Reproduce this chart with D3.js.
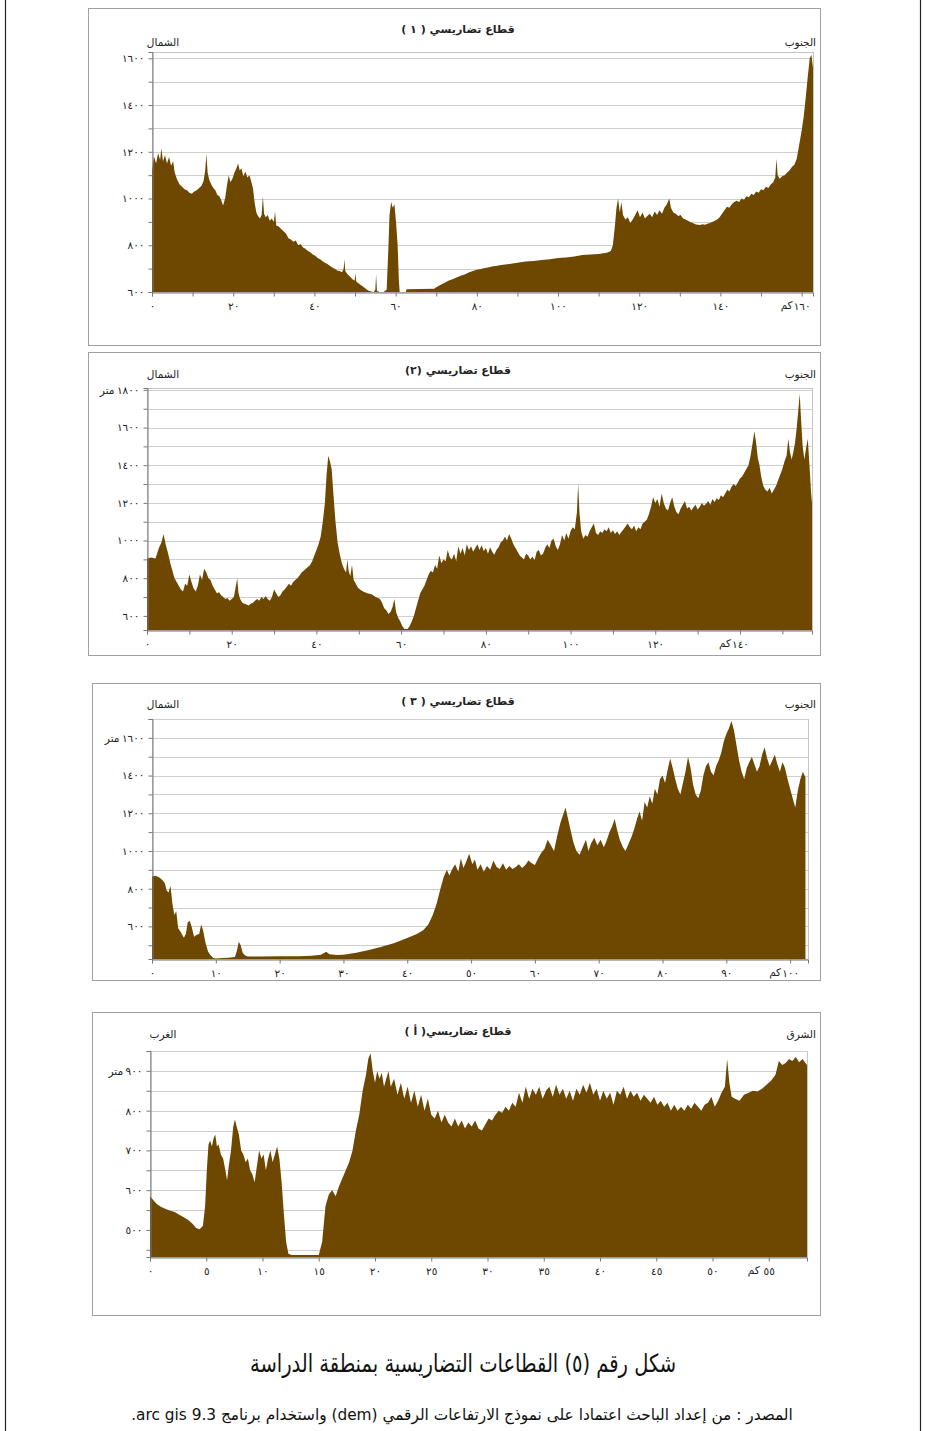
<!DOCTYPE html>
<html>
<head>
<meta charset="utf-8">
<script src="https://cdn.jsdelivr.net/npm/d3@7"></script>
<style>
  html, body { margin: 0; padding: 0; background: #fff; }
  svg { display: block; }
  text { font-family: "DejaVu Sans", "Liberation Sans", sans-serif; }
</style>
</head>
<body>
<svg id="fig" width="925" height="1431"></svg>
<script>
// ---- Profile 1 (north -> south): distance (km) and elevation (m)
const p1Dist = [0,0.5,1,1.5,2,2.3,2.7,3.2,3.7,4.2,4.7,5.2,5.6,6.2,6.8,7.4,8,8.6,9.2,9.8,10.4,11,11.6,12.2,12.7,13.1,13.4,13.7,14.1,14.6,15.1,15.6,16.1,16.6,17.1,17.5,18,18.5,18.9,19.3,19.8,20.3,20.8,21.2,21.6,22,22.5,23,23.5,24,24.5,24.9,25.3,25.7,26.1,26.6,27,27.3,27.6,28,28.5,29,29.5,30,30.3,30.6,31.2,31.8,32.4,33,33.6,34.2,34.8,35.4,36,36.6,37.2,37.8,38.4,39,39.6,40.2,40.8,41.4,42,42.6,43.2,43.8,44.4,45,45.6,46.2,46.8,47.2,47.4,47.6,48.2,48.8,49.4,49.9,50.1,50.3,51,51.6,52.2,52.8,53.4,54,54.6,55,55.2,55.4,56,57,57.8,58.2,58.5,58.9,59.3,59.7,60.1,60.5,60.8,61,62.5,62.7,69.5,70,71,72,73,74,75,76,77,78,79,80,81,82,83,84,85,86,87,88,90,92,94,96,98,100,102,104,106,108,110,112,113,113.5,114,114.4,114.8,115.2,115.6,116,116.6,117.2,117.8,118.4,119,119.6,120.2,120.8,121.4,122,122.6,123.2,123.8,124.4,125,125.6,126.2,126.8,127.4,127.8,128.4,129,129.6,130.2,130.8,131.4,132,132.6,133.2,133.8,134.4,135,135.6,136.2,136.8,137.4,138,138.6,139.2,139.8,140.4,141,141.6,142.2,142.8,143.4,144,144.6,145.2,145.8,146.4,147,147.6,148.2,148.8,149.4,150,150.6,151.2,151.8,152.4,153,153.5,153.8,154.1,154.6,155.2,155.8,156.4,157,157.6,158.2,158.8,159.4,160,160.5,161,161.5,162,162.4,162.8];
const p1Elev = [1120,1180,1150,1195,1165,1215,1160,1185,1150,1178,1140,1160,1110,1080,1060,1050,1040,1035,1025,1020,1030,1035,1045,1055,1075,1120,1190,1110,1080,1060,1045,1035,1015,1010,990,970,1000,1060,1100,1070,1085,1110,1130,1150,1120,1130,1095,1115,1090,1100,1070,1040,980,940,925,915,930,1010,935,920,930,905,915,900,945,885,880,870,860,850,830,825,815,820,800,805,790,785,775,770,760,755,745,740,732,725,720,712,705,700,692,690,685,700,740,690,675,665,655,648,680,645,635,628,620,612,605,602,600,610,675,605,600,600,610,780,930,985,960,975,900,800,650,600,600,612,614,620,630,638,648,655,662,670,675,683,690,695,698,703,706,710,712,716,718,720,725,730,733,737,740,745,748,752,758,760,763,768,775,800,880,960,1000,940,985,930,910,920,895,910,930,950,920,940,915,925,935,920,945,930,950,935,960,975,1000,960,940,935,925,930,915,910,905,900,895,890,888,887,890,888,892,895,900,905,910,920,935,950,965,960,975,985,990,985,1000,995,1010,1005,1020,1015,1030,1025,1040,1035,1050,1045,1060,1070,1090,1170,1100,1085,1095,1100,1110,1120,1135,1145,1170,1230,1290,1350,1430,1520,1600,1615,1560];

// ---- Profile 2 (north -> south)
const p2Dist = [0,1,2,2.8,3.4,3.9,4.4,5,5.5,6,6.5,7,7.5,8,8.5,9,9.5,10,10.5,11,11.5,12,12.5,13,13.5,14,14.5,15,15.5,16,16.5,17,17.5,18,18.5,19,19.5,20,20.5,21,21.3,21.6,22,22.5,23,23.5,24,24.5,25,25.5,26,26.5,27,27.5,28,28.5,29,29.5,30,30.5,31,31.5,32,32.5,33,33.5,34,34.5,35,35.5,36,36.5,37,37.5,38,38.5,39,39.5,40,40.5,41,41.5,42,42.4,42.8,43.2,43.6,44,44.5,45,45.5,46,46.5,47,47.3,47.6,48,48.4,48.8,49.3,49.8,50.3,51,52,53,54,55,55.5,56,56.5,57,57.5,58,58.4,58.8,59.3,59.8,60.3,60.8,61.5,62,62.5,63,63.5,64,64.5,65,65.5,66,66.5,67,67.5,68,68.5,69,69.5,70,70.5,71,71.5,72,72.5,73,73.5,74,74.5,75,75.5,76,76.5,77,77.5,78,78.5,79,79.5,80,80.5,81,81.5,82,82.5,83,83.5,84,84.5,85,85.5,86,86.5,87,87.5,88,88.5,89,89.5,90,90.5,91,91.5,92,92.5,93,93.5,94,94.5,95,95.5,96,96.5,97,97.5,98,98.5,99,99.5,100,100.5,101,101.5,101.8,102.1,102.5,103,103.5,104,104.5,105,105.5,106,106.5,107,107.5,108,108.5,109,109.5,110,110.5,111,111.5,112,112.5,113,113.5,114,114.5,115,115.5,116,116.5,117,117.5,118,118.5,119,119.5,120,120.5,121,121.5,122,122.5,123,123.5,124,124.5,125,125.5,126,126.5,127,127.5,128,128.5,129,129.5,130,130.5,131,131.5,132,132.5,133,133.5,134,134.5,135,135.5,136,136.5,137,137.5,138,138.5,139,139.5,140,140.5,141,141.5,142,142.5,143,143.4,143.8,144.2,144.6,145,145.5,146,146.5,147,147.5,148,148.5,149,149.5,150,150.5,151,151.4,151.8,152.2,152.6,153,153.4,153.8,154.1,154.4,154.8,155.2,155.6,156,156.4,156.8,157];
const p2Elev = [905,910,905,960,990,1035,980,930,880,840,800,780,760,740,730,770,760,820,780,745,730,760,820,790,850,830,800,790,760,740,720,725,710,700,690,695,680,690,700,760,800,720,690,670,665,660,655,665,670,680,690,680,700,690,705,690,680,700,740,720,700,710,730,740,755,770,760,780,790,800,815,830,840,850,860,870,890,920,950,980,1020,1100,1200,1350,1450,1420,1380,1250,1100,990,930,880,850,830,900,840,810,870,790,770,750,740,730,720,715,700,690,670,640,630,610,620,650,690,620,590,570,545,530,530,545,570,600,640,680,720,740,760,790,820,840,830,870,850,920,880,900,890,950,910,900,930,890,970,930,960,920,980,950,970,940,960,980,950,975,945,960,930,965,940,925,950,965,990,1000,1020,1000,1035,1010,980,960,940,920,910,900,930,920,900,915,895,940,950,920,930,960,980,960,1000,1010,970,950,980,1030,1000,1040,1010,1050,1070,1060,1150,1300,1150,1050,1010,1030,1020,1050,1070,1090,1040,1030,1050,1040,1060,1050,1070,1040,1055,1035,1050,1030,1045,1060,1075,1090,1070,1060,1080,1050,1070,1060,1090,1100,1110,1140,1180,1230,1200,1220,1180,1250,1200,1170,1160,1200,1230,1180,1150,1140,1170,1190,1210,1170,1180,1160,1175,1190,1165,1180,1200,1185,1195,1210,1190,1220,1205,1225,1215,1240,1230,1250,1270,1260,1285,1300,1290,1310,1330,1340,1360,1380,1400,1450,1520,1580,1520,1440,1400,1340,1290,1270,1260,1280,1250,1270,1290,1320,1350,1380,1420,1450,1540,1470,1430,1470,1520,1600,1700,1780,1650,1500,1430,1490,1540,1400,1250,1200];

// ---- Profile 3 (north -> south)
const p3Dist = [0,0.5,1,1.5,2,2.3,2.6,2.9,3.2,3.5,3.8,4.1,4.5,5,5.3,5.6,5.9,6.2,6.6,7,7.4,7.7,8,8.4,8.8,9.2,9.6,10,11,12,13,13.3,13.6,13.9,14.2,14.6,15,17,20,23,25,26.5,27.3,27.8,29,30,32,34,36,38,40,41.5,42.5,43.3,44,44.6,45.2,45.7,46.2,46.6,47,47.5,48,48.4,48.8,49.2,49.7,50.2,50.6,51,51.5,52,52.5,53,53.5,54,54.5,55,55.5,56,56.5,57,57.5,58,58.5,59,59.5,60,60.5,61,61.5,62,62.5,63,63.5,64,64.5,64.8,65.2,65.6,66,66.5,67,67.5,68,68.4,68.8,69.3,69.8,70.3,70.8,71.2,71.7,72.1,72.5,72.9,73.3,73.8,74.2,74.7,75.2,75.6,76,76.4,76.8,77.2,77.6,78,78.4,78.8,79.2,79.6,80,80.4,80.8,81.2,81.6,82,82.4,82.8,83.2,83.6,84,84.4,84.8,85.2,85.6,86,86.4,86.8,87.2,87.6,88,88.4,88.8,89.2,89.6,90,90.4,90.8,91.2,91.6,92,92.4,92.8,93.2,93.6,94,94.4,94.8,95.2,95.6,96,96.4,96.8,97.2,97.6,98,98.4,98.8,99.2,99.6,100,100.4,100.8,101.2,101.6,102,102.4];
const p3Elev = [865,868,862,850,830,790,780,815,720,660,680,590,570,540,560,620,630,600,545,555,560,610,580,510,465,445,432,430,432,434,438,470,518,500,460,445,440,440,442,442,444,450,465,452,448,450,460,475,492,512,538,560,580,610,660,720,800,860,900,870,900,930,890,960,910,940,985,930,955,900,930,890,920,900,950,915,905,935,900,920,905,915,930,910,925,950,935,925,960,990,1010,1060,1030,1000,1080,1150,1200,1230,1170,1110,1050,1000,980,1020,1060,1000,1040,1070,1030,1060,1020,1050,1100,1130,1170,1110,1060,1020,1000,1040,1080,1120,1170,1210,1160,1260,1230,1290,1250,1330,1300,1380,1400,1360,1430,1490,1440,1380,1330,1300,1360,1420,1500,1440,1350,1300,1280,1320,1400,1450,1470,1420,1400,1450,1480,1520,1580,1620,1650,1690,1640,1560,1480,1420,1380,1440,1470,1500,1460,1420,1450,1510,1550,1490,1450,1480,1510,1460,1420,1470,1440,1380,1330,1280,1230,1320,1380,1420,1390];

// ---- Profile A (west -> east)
const p4Dist = [0,0.3,0.6,1,1.4,1.8,2.2,2.6,3,3.4,3.8,4.1,4.4,4.7,4.9,5.05,5.2,5.35,5.5,5.65,5.8,5.95,6.1,6.3,6.5,6.7,6.85,7,7.2,7.4,7.55,7.7,7.9,8.1,8.3,8.5,8.7,8.9,9.1,9.3,9.5,9.7,9.9,10.1,10.3,10.5,10.7,10.9,11.1,11.3,11.5,11.7,11.9,12.1,12.3,12.6,15,15.3,15.6,15.9,16.2,16.5,16.8,17.1,17.4,17.7,18,18.3,18.6,18.9,19.2,19.4,19.6,19.8,20,20.2,20.4,20.6,20.8,21,21.2,21.4,21.7,22,22.3,22.6,22.9,23.2,23.5,23.8,24.1,24.4,24.7,25,25.3,25.6,25.9,26.2,26.5,26.8,27.1,27.4,27.7,28,28.3,28.6,28.9,29.2,29.5,29.8,30.1,30.4,30.7,31,31.3,31.6,31.9,32.2,32.5,32.8,33.1,33.4,33.7,34,34.3,34.6,34.9,35.2,35.5,35.8,36.1,36.4,36.7,37,37.3,37.6,37.9,38.2,38.5,38.8,39.1,39.4,39.7,40,40.3,40.6,40.9,41.2,41.5,41.8,42.1,42.4,42.7,43,43.3,43.6,43.9,44.2,44.5,44.8,45.1,45.4,45.7,46,46.3,46.6,46.9,47.2,47.5,47.8,48.1,48.4,48.7,49,49.3,49.6,49.9,50.2,50.5,50.8,51.1,51.3,51.5,51.7,52,52.4,52.8,53.2,53.6,54,54.4,54.8,55.2,55.6,55.9,56.2,56.5,56.8,57.1,57.4,57.7,58,58.4];
const p4Elev = [585,575,565,558,553,548,545,538,532,525,515,505,502,510,560,650,715,725,710,730,740,710,715,690,680,650,625,660,700,760,778,760,740,700,690,670,680,650,640,620,660,700,680,690,650,680,700,670,690,710,680,620,540,470,440,437,437,470,560,590,600,585,610,630,650,670,700,750,790,850,890,930,945,900,870,900,880,895,860,880,900,860,880,840,870,830,860,820,850,810,840,800,830,790,780,800,770,790,770,760,780,760,775,755,770,760,775,755,750,765,780,775,790,800,795,810,800,820,810,845,820,860,830,855,840,860,830,850,860,835,865,840,855,830,850,825,855,840,865,845,870,840,855,825,850,830,845,815,850,840,860,830,850,835,845,825,840,830,820,835,815,825,810,820,800,815,800,810,800,815,805,820,810,800,815,820,835,810,825,845,860,930,870,835,830,825,840,845,850,848,855,865,875,890,925,915,920,930,925,935,922,930,915];

// ---- Axis ticks and labels
const p1XTicks = [0,20,40,60,80,100,120,140,160];
const p2XTicks = [0,20,40,60,80,100,120,140];
const p3XTicks = [0,10,20,30,40,50,60,70,80,90,100];
const p4XTicks = [0,5,10,15,20,25,30,35,40,45,50,55];
const p1YTicks = [600,800,1000,1200,1400,1600];
const p2YTicks = [600,800,1000,1200,1400,1600,1800];
const p3YTicks = [600,800,1000,1200,1400,1600];
const p4YTicks = [500,600,700,800,900];

const panels = [
  { title: "قطاع تضاريسي ( ١ )", left: "الشمال", right: "الجنوب",
    box: [88, 8, 820, 345], plot: [152, 52, 813, 292],
    xDom: [0, 162.8], yDom: [600, 1627], xTicks: p1XTicks, xMinor: 10,
    yTicks: p1YTicks, yMinor: 100, unitOnTop: false,
    dist: p1Dist, elev: p1Elev, titleY: 33, sideY: 46 },
  { title: "قطاع تضاريسي (٢)", left: "الشمال", right: "الجنوب",
    box: [88, 352, 820, 655], plot: [147, 388, 812, 630],
    xDom: [0, 157], yDom: [525, 1810], xTicks: p2XTicks, xMinor: 10,
    yTicks: p2YTicks, yMinor: 100, unitOnTop: true,
    dist: p2Dist, elev: p2Elev, titleY: 374, sideY: 378 },
  { title: "قطاع تضاريسي ( ٣ )", left: "الشمال", right: "الجنوب",
    box: [92, 683, 820, 980], plot: [152, 719, 808, 959],
    xDom: [0, 102.8], yDom: [427, 1700], xTicks: p3XTicks, xMinor: 10,
    yTicks: p3YTicks, yMinor: 100, unitOnTop: true,
    dist: p3Dist, elev: p3Elev, titleY: 705, sideY: 708 },
  { title: "قطاع تضاريسي( أ )", left: "الغرب", right: "الشرق",
    box: [92, 1012, 820, 1315], plot: [150, 1051, 807, 1257],
    xDom: [0, 58.4], yDom: [432, 950], xTicks: p4XTicks, xMinor: 5,
    yTicks: p4YTicks, yMinor: 50, unitOnTop: true,
    dist: p4Dist, elev: p4Elev, titleY: 1035, sideY: 1038 }
];

const AR = "٠١٢٣٤٥٦٧٨٩";
const arabicDigits = n => String(n).replace(/\d/g, d => AR[+d]);

const svg = d3.select("#fig");
const FILL = "#6e4700";

// page frame lines
svg.append("line").attr("x1", 5.5).attr("x2", 5.5).attr("y1", 0).attr("y2", 1431)
  .attr("stroke", "#222").attr("stroke-width", 1.2);
svg.append("line").attr("x1", 920.5).attr("x2", 920.5).attr("y1", 0).attr("y2", 1431)
  .attr("stroke", "#222").attr("stroke-width", 1.2);

panels.forEach(p => {
  const g = svg.append("g");
  const [bx0, by0, bx1, by1] = p.box;
  g.append("rect").attr("x", bx0 + 0.5).attr("y", by0 + 0.5)
    .attr("width", bx1 - bx0).attr("height", by1 - by0)
    .attr("fill", "#fff").attr("stroke", "#a0a0a0");

  const [px0, py0, px1, py1] = p.plot;
  const x = d3.scaleLinear().domain(p.xDom).range([px0, px1]);
  const y = d3.scaleLinear().domain(p.yDom).range([py1, py0]);

  // plot area frame
  g.append("rect").attr("x", px0 + 0.5).attr("y", py0 + 0.5)
    .attr("width", px1 - px0).attr("height", py1 - py0)
    .attr("fill", "none").attr("stroke", "#c4c4c4");

  // horizontal gridlines every minor step
  const gridVals = d3.range(Math.ceil(p.yDom[0] / p.yMinor) * p.yMinor, p.yDom[1] + 1, p.yMinor);
  g.append("g").selectAll("line").data(gridVals).join("line")
    .attr("x1", px0).attr("x2", px1)
    .attr("y1", d => Math.round(y(d)) + 0.5).attr("y2", d => Math.round(y(d)) + 0.5)
    .attr("stroke", "#cfcfcf");

  // terrain profile
  const pts = p.dist.map((d, i) => [d, p.elev[i]]);
  const area = d3.area().x(d => x(d[0])).y0(py1).y1(d => y(d[1]));
  g.append("path").datum(pts).attr("d", area).attr("fill", FILL);

  // y axis
  const yAxis = d3.axisLeft(y).tickValues(gridVals).tickSize(4).tickPadding(4)
    .tickFormat(d => p.yTicks.includes(d) ? arabicDigits(d) : "");
  const ya = g.append("g").attr("transform", `translate(${px0 + 0.5},0)`).call(yAxis);
  ya.select(".domain").attr("stroke", "#777");
  ya.selectAll(".tick line").attr("stroke", "#777");
  ya.selectAll(".tick text").attr("font-size", 10.5).attr("fill", "#222");

  // x axis
  const minorVals = d3.range(0, p.xDom[1] + 0.001, p.xMinor);
  const xAxis = d3.axisBottom(x).tickValues(minorVals).tickSize(4).tickPadding(6)
    .tickFormat(d => p.xTicks.includes(d) ? arabicDigits(d) : "");
  const xa = g.append("g").attr("transform", `translate(0,${py1 + 0.5})`).call(xAxis);
  xa.select(".domain").attr("stroke", "#777");
  xa.selectAll(".tick line").attr("stroke", "#777");
  xa.selectAll(".tick text").attr("font-size", 10.5).attr("fill", "#222");

  // km unit beside the last labelled distance
  const lastX = p.xTicks[p.xTicks.length - 1];
  g.append("text").attr("x", x(lastX) - 9).attr("y", py1 + 17)
    .attr("text-anchor", "end").attr("font-size", 10.5).attr("fill", "#222").text("كم");

  // metre unit beside the top labelled elevation
  if (p.unitOnTop) {
    const topY = p.yTicks[p.yTicks.length - 1];
    const lbl = ya.selectAll(".tick").filter(d => d === topY).select("text");
    const w = lbl.node().getComputedTextLength();
    g.append("text").attr("x", px0 - 8 - w - 2).attr("y", y(topY) + 4)
      .attr("text-anchor", "end").attr("font-size", 10.5).attr("fill", "#222").text("متر");
  }

  // titles
  g.append("text").attr("x", 458).attr("y", p.titleY).attr("text-anchor", "middle")
    .attr("font-size", 11).attr("font-weight", "bold").attr("fill", "#222").text(p.title);
  g.append("text").attr("x", 163).attr("y", p.sideY).attr("text-anchor", "middle")
    .attr("font-size", 10.5).attr("fill", "#222").text(p.left);
  g.append("text").attr("x", 816).attr("y", p.sideY).attr("text-anchor", "end")
    .attr("font-size", 10.5).attr("fill", "#222").text(p.right);
});

// figure caption and source
svg.append("text").attr("transform", "translate(463,1372) scale(0.78,1)")
  .attr("text-anchor", "middle")
  .attr("font-size", 25).attr("fill", "#111")
  .text("شكل رقم (٥) القطاعات التضاريسية بمنطقة الدراسة");
svg.append("text").attr("transform", "translate(462,1420) scale(0.96,1)")
  .attr("text-anchor", "middle")
  .attr("font-size", 16).attr("fill", "#111").attr("direction", "rtl")
  .text("المصدر : من إعداد الباحث اعتمادا على نموذج  الارتفاعات الرقمي (dem) واستخدام برنامج arc gis 9.3.");
</script>
</body>
</html>
